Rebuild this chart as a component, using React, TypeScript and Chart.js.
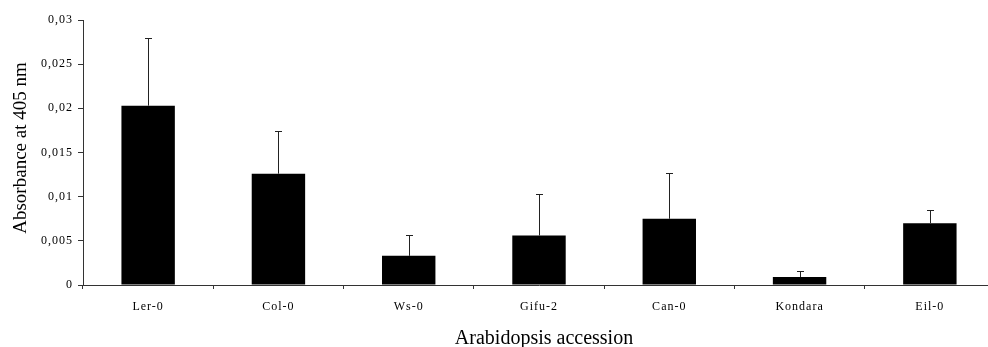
import React, { useEffect, useRef } from "react";
import { Chart, registerables } from "chart.js";

Chart.register(...registerables);

const categories = ["Ler-0", "Col-0", "Ws-0", "Gifu-2", "Can-0", "Kondara", "Eil-0"];
const absorbance = [0.0203, 0.0126, 0.0033, 0.0056, 0.0075, 0.0009, 0.007];
const errorUpper = [0.0077, 0.0048, 0.0024, 0.0047, 0.0052, 0.0007, 0.0015];
const yTickLabels = ["0", "0,005", "0,01", "0,015", "0,02", "0,025", "0,03"];
const yTitle = "Absorbance at 405 nm";
const xTitle = "Arabidopsis accession";

const FONT = "'Liberation Serif', 'Times New Roman', serif";

export default function App() {
  const ref = useRef<HTMLCanvasElement | null>(null);

  useEffect(() => {
    document.documentElement.style.overflow = "hidden";
    document.body.style.margin = "0";
    const canvas = ref.current;
    if (!canvas) return;

    const errorPlugin = {
      id: "errorBarsAndTitles",
      beforeDraw(chart: any) {
        chart.ctx.letterSpacing = "1px";
      },
      afterDatasetsDraw(chart: any) {
        const ctx = chart.ctx;
        const xs = chart.scales.x;
        const ys = chart.scales.y;
        ctx.save();
        ctx.strokeStyle = "#222";
        ctx.lineWidth = 1;
        absorbance.forEach((v, i) => {
          const x = Math.round(xs.getPixelForValue(i)) + 0.5;
          const yb = ys.getPixelForValue(v);
          const yt = Math.round(ys.getPixelForValue(v + errorUpper[i])) + 0.5;
          ctx.beginPath();
          ctx.moveTo(x, yb);
          ctx.lineTo(x, yt);
          ctx.moveTo(x - 3.5, yt);
          ctx.lineTo(x + 3.5, yt);
          ctx.stroke();
        });
        ctx.restore();
      },
      afterDraw(chart: any) {
        const ctx = chart.ctx;
        ctx.save();
        ctx.letterSpacing = "0px";
        ctx.fillStyle = "#000";
        ctx.font = `19px ${FONT}`;
        ctx.textAlign = "center";
        ctx.textBaseline = "alphabetic";
        ctx.translate(26, 148);
        ctx.rotate(-Math.PI / 2);
        ctx.fillText(yTitle, 0, 0);
        ctx.restore();

        ctx.save();
        ctx.letterSpacing = "0px";
        ctx.fillStyle = "#000";
        ctx.font = `20px ${FONT}`;
        ctx.textAlign = "center";
        ctx.textBaseline = "alphabetic";
        ctx.fillText(xTitle, 544, 344);
        ctx.restore();
      },
    };

    const chart = new Chart(canvas, {
      type: "bar",
      data: {
        labels: categories,
        datasets: [
          {
            data: absorbance,
            backgroundColor: "#000",
            borderWidth: 0,
            categoryPercentage: 1,
            barPercentage: 0.41,
          },
        ],
      },
      options: {
        animation: false,
        responsive: false,
        devicePixelRatio: 1,
        layout: { padding: { top: 20, right: 5, left: 0, bottom: 0 } },
        plugins: {
          legend: { display: false },
          tooltip: { enabled: false },
        },
        scales: {
          x: {
            afterFit(scale: any) {
              scale.height = 62;
            },
            grid: {
              offset: true,
              drawOnChartArea: false,
              drawTicks: true,
              tickLength: 4,
              color: "#333",
            },
            border: { color: "#333", width: 1 },
            ticks: {
              color: "#000",
              font: { family: FONT, size: 12 },
              padding: 11,
              maxRotation: 0,
            },
          },
          y: {
            min: 0,
            max: 0.03,
            afterFit(scale: any) {
              scale.width = 83;
            },
            grid: {
              drawOnChartArea: false,
              drawTicks: true,
              tickLength: 5,
              color: "#333",
            },
            border: { color: "#333", width: 1 },
            ticks: {
              stepSize: 0.005,
              color: "#000",
              font: { family: FONT, size: 12 },
              padding: 5,
              callback: (_v: any, i: number) => yTickLabels[i],
            },
          },
        },
      },
      plugins: [errorPlugin],
    });

    return () => chart.destroy();
  }, []);

  return (
    <div style={{ position: "fixed", left: 0, top: 0, width: 1000, height: 347, background: "#fff" }}>
      <canvas ref={ref} width={1000} height={347} style={{ width: 1000, height: 347 }} />
    </div>
  );
}
